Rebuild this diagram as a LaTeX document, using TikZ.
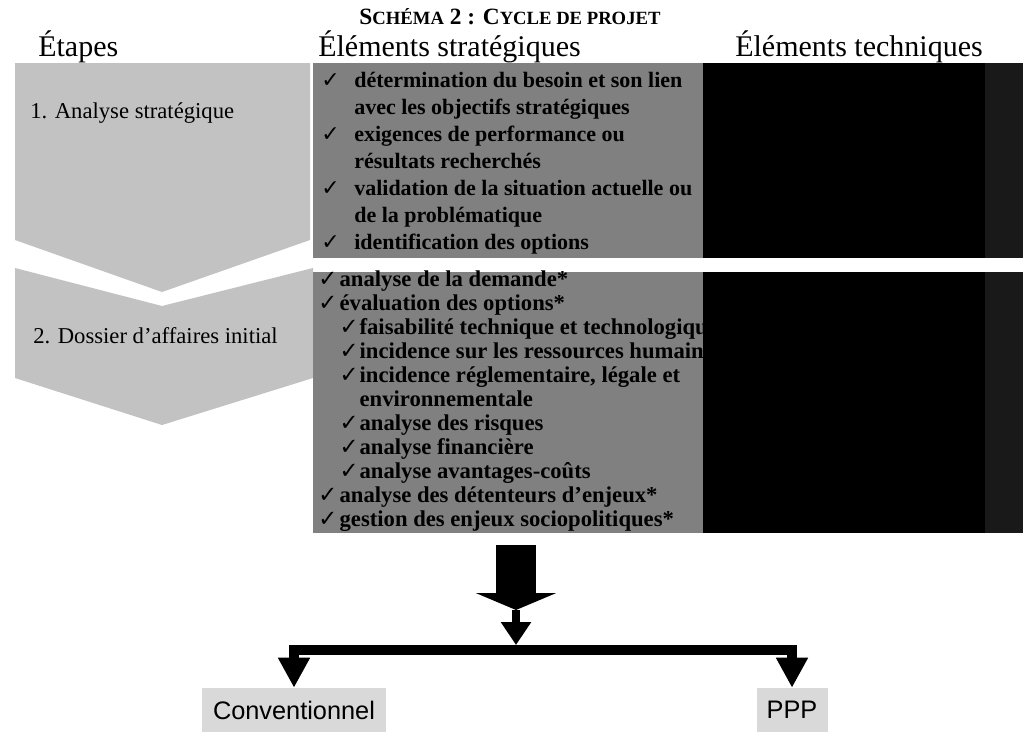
\documentclass[tikz,border=0pt]{standalone}
\usepackage{fontspec}
\setmainfont{Liberation Serif}
\newfontfamily\chkfont{DejaVu Sans}
\newfontfamily\arialfont{Liberation Sans}
\usetikzlibrary{arrows.meta,positioning}

\newcommand{\ck}{\makebox[24.75pt][l]{\chkfont ✓}}
\newcommand{\cka}{\makebox[16pt][l]{\chkfont ✓}}
\newcommand{\ckb}{\hspace*{16pt}\makebox[15pt][l]{\chkfont ✓}}

\tikzset{
  chev/.style={fill=black!24},
  stratbox/.style={fill=black!50, anchor=north west, inner sep=0pt, minimum width=292.5pt},
  techbox/.style={fill=black, anchor=north west, inner sep=0pt, minimum width=240pt},
  hdr/.style={anchor=base west, inner sep=0pt, font=\fontsize{22.5}{27}\selectfont},
  etape/.style={anchor=base west, inner sep=0pt, font=\fontsize{17}{20}\selectfont},
  liste/.style={anchor=base west, inner sep=0pt, align=left},
  choix/.style={fill=black!15, inner sep=0pt, minimum height=33pt, font=\arialfont\fontsize{19}{22}\selectfont},
  fleche/.style={-{Triangle[width=22.5pt,length=22.5pt]}, line width=7.5pt}
}

\begin{document}
\begin{tikzpicture}[x=0.75pt,y=-0.75pt]
\useasboundingbox (0,0) rectangle (1023,732);

\node[anchor=base, inner sep=0pt] (titre) at (510,24)
  {\bfseries\fontsize{17.5}{20}\selectfont S{\fontsize{14}{16}\selectfont CHÉMA} 2 : C{\fontsize{14}{16}\selectfont YCLE DE PROJET}};

\node[hdr] (h1) at (38,56) {Étapes};
\node[hdr] (h2) at (318,56) {Éléments stratégiques};
\node[hdr] (h3) at (735,56) {Éléments techniques};

\fill[chev] (15,63) -- (310,63) -- (310,240) -- (162,292) -- (15,240) -- cycle;
\fill[chev] (15,268) -- (162,306) -- (313,268) -- (313,378) -- (162,425) -- (15,378) -- cycle;
\node[etape] (e1) at (30,118) {1. Analyse stratégique};
\node[etape] (e2) at (33,343) {2. Dossier d'affaires initial};

\node[stratbox, minimum height=146.25pt] (strat1) at (313,63) {};
\node[stratbox, minimum height=195.75pt] (strat2) at (313,272) {};

\node[liste, font=\bfseries\fontsize{16.5}{20.25}\selectfont] (l1) at (321,87)
  {\begin{tabular}[t]{@{}l@{}}
  \ck détermination du besoin et son lien\\
  \hspace*{24.75pt}avec les objectifs stratégiques\\
  \ck exigences de performance ou\\
  \hspace*{24.75pt}résultats recherchés\\
  \ck validation de la situation actuelle ou\\
  \hspace*{24.75pt}de la problématique\\
  \ck identification des options
  \end{tabular}};

\node[liste, font=\bfseries\fontsize{17}{18}\selectfont] (l2) at (318,286)
  {\begin{tabular}[t]{@{}l@{}}
  \cka analyse de la demande*\\
  \cka évaluation des options*\\
  \ckb faisabilité technique et technologique\\
  \ckb incidence sur les ressources humaines\\
  \ckb incidence réglementaire, légale et\\
  \hspace*{31pt}environnementale\\
  \ckb analyse des risques\\
  \ckb analyse financière\\
  \ckb analyse avantages-coûts\\
  \cka analyse des détenteurs d'enjeux*\\
  \cka gestion des enjeux sociopolitiques*
  \end{tabular}};

\node[techbox, minimum height=146.25pt] (tech1) at (703,63) {};
\node[techbox, minimum height=195.75pt] (tech2) at (703,272) {};
\fill[black!90] (985,63) rectangle (1023,258);
\fill[black!90] (985,272) rectangle (1023,533);

\node[choix, minimum width=138pt] (conv) at (294,710) {Conventionnel};
\node[choix, minimum width=53.25pt] (ppp) at (792,710) {PPP};

\coordinate (haut) at (516,545);
\coordinate (milieu) at (516,610);
\coordinate (jonction) at (516,645);
\coordinate (barre) at (516,650);

\draw[-{Triangle[width=60pt,length=12.75pt]}, line width=30pt] (haut) -- (milieu);
\draw[-{Triangle[width=21.75pt,length=17.25pt]}, line width=6pt] (milieu) -- (jonction);
\draw[fleche] (barre) -| (conv.north);
\draw[fleche] (barre) -| (ppp.north);
\end{tikzpicture}
\end{document}
